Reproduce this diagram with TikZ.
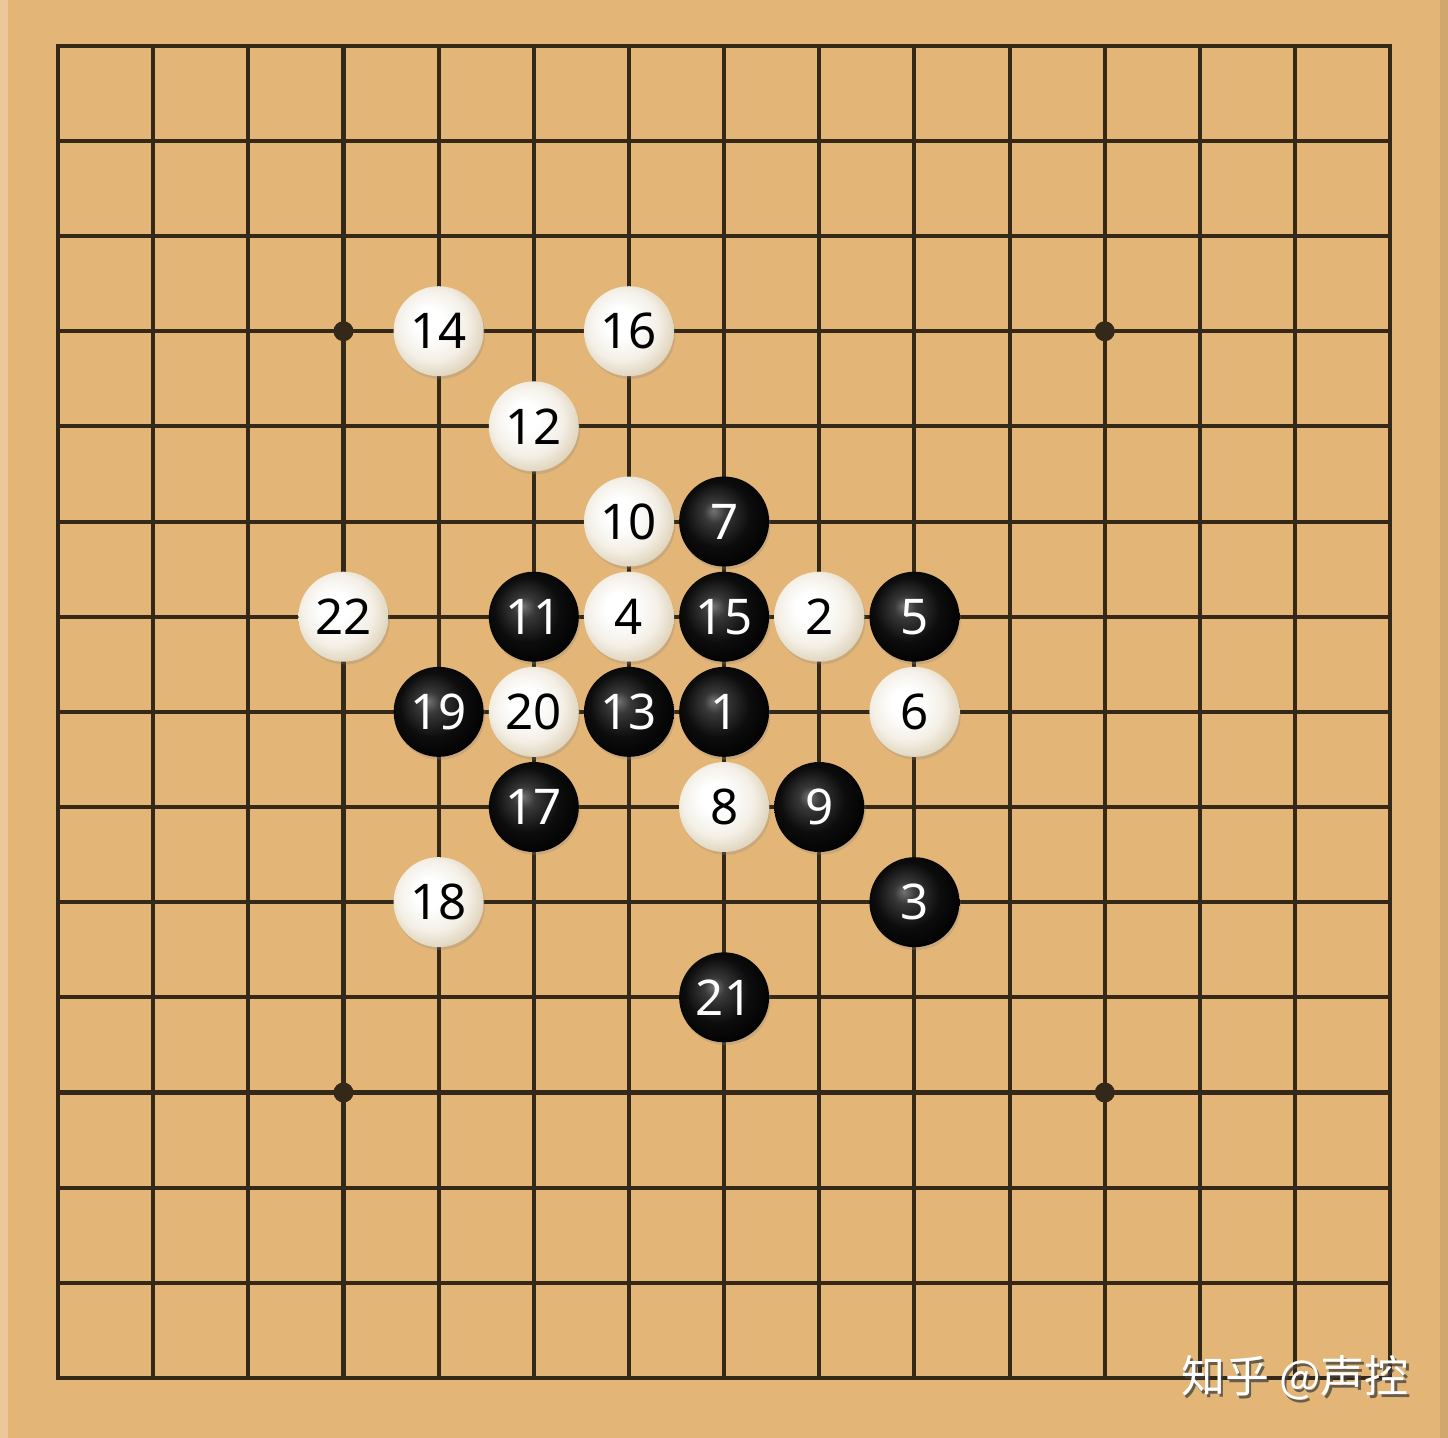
\documentclass[tikz,border=0pt]{standalone}
\usepackage{fontspec}
\setmainfont{Noto Sans}
\newfontfamily\cjk{Noto Sans CJK SC}
\usepackage{tikz}
\usetikzlibrary{shadows}

\definecolor{boardtan}{RGB}{227,182,119}
\definecolor{gridline}{RGB}{52,40,24}
\definecolor{stonecream}{RGB}{222,210,184}

% stone shadings
\pgfdeclareradialshading{blackball}{\pgfpoint{-6bp}{6bp}}{color(0bp)=(black!55); color(6bp)=(black!78); color(18bp)=(black!95); color(30bp)=(black); color(50bp)=(black)}
\pgfdeclareradialshading{whiteball}{\pgfpoint{-6bp}{6bp}}{color(0bp)=(white); color(8bp)=(white); color(20bp)=(white!65!stonecream); color(29bp)=(stonecream); color(33bp)=(stonecream!80!black); color(50bp)=(stonecream!80!black)}

\tikzset{
    stone/.style={circle, minimum size=0.9cm, inner sep=0pt,
        font=\fontsize{14}{14}\selectfont,
        drop shadow={opacity=0.25, shadow xshift=0.4pt, shadow yshift=-0.8pt}},
    blackstone/.style={stone, shading=blackball, text=white},
    whitestone/.style={stone, shading=whiteball, text=black},
    starpoint/.style={circle, fill=gridline, minimum size=0.2cm, inner sep=0pt}
}

\begin{document}
\begin{tikzpicture}[x=0.9516cm, y=0.9516cm]
% Board
\fill[boardtan] (-0.58cm,-0.60cm) rectangle (13.90cm,13.78cm);
\useasboundingbox (-0.58cm,-0.60cm) rectangle (13.90cm,13.78cm);
\fill[white, opacity=0.25] (-0.58cm,-0.60cm) rectangle (-0.50cm,13.78cm);
\fill[black, opacity=0.08] (13.82cm,-0.60cm) rectangle (13.90cm,13.78cm);

% Grid
\foreach \i in {0,...,14} {
    \draw[gridline, line width=1.15pt] (\i,0) -- (\i,14);
    \draw[gridline, line width=1.15pt] (0,\i) -- (14,\i);
}
\draw[gridline, line width=1.15pt] (0,0) rectangle (14,14);

% Star points
\foreach \x/\y [count=\k] in {3/11, 11/11, 3/3, 11/3, 7/7}
    \node[starpoint] (star\k) at (\x,\y) {};

% Black stones (odd moves)
\foreach \n/\x/\y in {1/7/7, 3/9/5, 5/9/8, 7/7/9, 9/8/6, 11/5/8,
                      13/6/7, 15/7/8, 17/5/6, 19/4/7, 21/7/4}
    \node[blackstone] (s\n) at (\x,\y) {\n};

% White stones (even moves)
\foreach \n/\x/\y in {2/8/8, 4/6/8, 6/9/7, 8/7/6, 10/6/9, 12/5/10,
                      14/4/11, 16/6/11, 18/4/5, 20/5/7, 22/3/8}
    \node[whitestone] (s\n) at (\x,\y) {\n};

% Watermark
\node[text=black!75, opacity=0.75, font=\cjk\fontsize{12.5}{12.5}\selectfont]
    (markshadow) at ([xshift=0.7pt, yshift=-0.9pt]13.0,0.0) {知乎 @声控};
\node[text=white, font=\cjk\fontsize{12.5}{12.5}\selectfont]
    (mark) at (13.0,0.0) {知乎 @声控};
\end{tikzpicture}
\end{document}
